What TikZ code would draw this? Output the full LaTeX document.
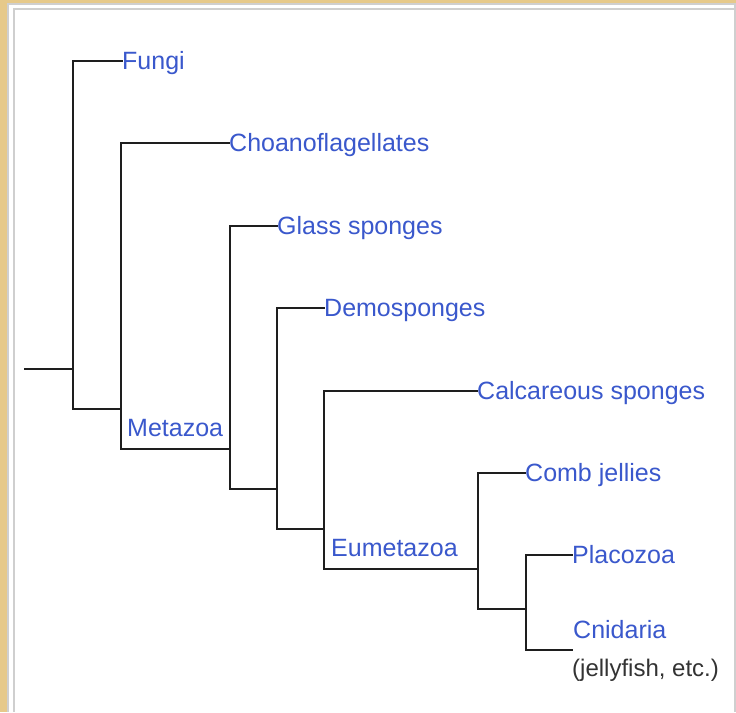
\documentclass[tikz,border=0pt]{standalone}
\usepackage{fontspec}
\setmainfont{Liberation Sans}
\usepackage{xcolor}
\usepackage{tikz}
\definecolor{tanc}{HTML}{E6C98A}
\definecolor{framec}{HTML}{CFCFCF}
\definecolor{branchc}{HTML}{1E1E1E}
\definecolor{taxonc}{HTML}{3A58CC}
\definecolor{notec}{HTML}{333333}

\begin{document}
\begin{tikzpicture}[x=1pt, y=-1pt,
    branch/.style={branchc, line width=2pt, line cap=rect},
    taxon/.style={anchor=west, inner sep=0pt, text height=16pt, text depth=0pt,
      font=\fontsize{25}{30}\selectfont, taxonc},
    note/.style={anchor=west, inner sep=0pt, text height=16pt, text depth=0pt,
      font=\fontsize{24}{30}\selectfont, notec}]
  % frame
  \useasboundingbox (0,0) rectangle (736,712);
  \fill[white] (0,0) rectangle (736,712);
  \fill[tanc] (0,0) rectangle (736,3);
  \fill[tanc] (0,0) rectangle (7,712);
  \fill[framec] (7,3) rectangle (736,4.5);
  \fill[framec] (7,3) rectangle (9,712);
  \fill[framec] (13,8) rectangle (736,10);
  \fill[framec] (13,8) rectangle (15,712);
  \fill[framec] (734,3) rectangle (736,712);
  % taxa
  \node[taxon] (fungi) at (122,61) {Fungi};
  \node[taxon] (choano) at (229,143) {Choanoflagellates};
  \node[taxon] (glass) at (277,226) {Glass sponges};
  \node[taxon] (demo) at (324,308) {Demosponges};
  \node[taxon] (calc) at (477,391) {Calcareous sponges};
  \node[taxon] (comb) at (525,473) {Comb jellies};
  \node[taxon] (placo) at (572,555) {Placozoa};
  \node[taxon] (cnid) at (573,630) {Cnidaria};
  \node[note] (jelly) at (572,668) {(jellyfish, etc.)};
  \node[taxon] (metazoa) at (127,428) {Metazoa};
  \node[taxon] (eumeta) at (331,548) {Eumetazoa};
  % tree
  \coordinate (root) at (25,369);
  \coordinate (n1) at (73,369);
  \coordinate (n2) at (121,409);
  \coordinate (n3) at (230,449);
  \coordinate (n4) at (277,489);
  \coordinate (n5) at (324,529);
  \coordinate (n6) at (478,569);
  \coordinate (n7) at (526,609);
  \coordinate (cnidtip) at (572,650);
  \draw[branch] (root) -- (n1);
  \draw[branch] (fungi.west) -| (n1) |- (n2);
  \draw[branch] (choano.west) -| (n2) |- (n3);
  \draw[branch] (glass.west) -| (n3) |- (n4);
  \draw[branch] (demo.west) -| (n4) |- (n5);
  \draw[branch] (calc.west) -| (n5) |- (n6);
  \draw[branch] (comb.west) -| (n6) |- (n7);
  \draw[branch] (placo.west) -| (n7) |- (cnidtip);
\end{tikzpicture}
\end{document}
